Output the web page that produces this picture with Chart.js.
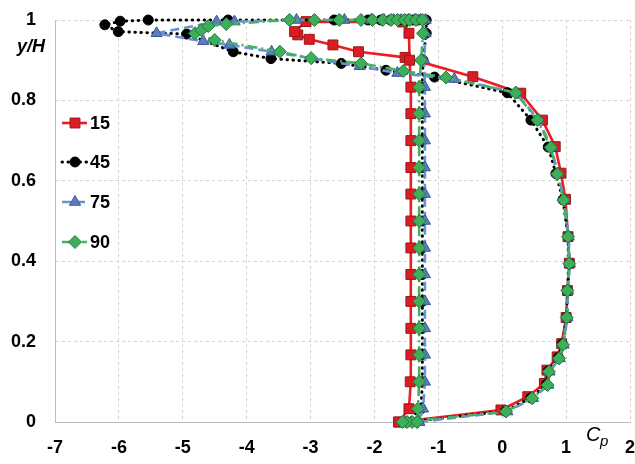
<!DOCTYPE html>
<html>
<head>
<meta charset="utf-8">
<script src="https://cdn.jsdelivr.net/npm/chart.js@4.4.1/dist/chart.umd.min.js"></script>
<style>
  html, body { margin: 0; padding: 0; background: #ffffff; }
  #wrap { width: 635px; height: 464px; }
</style>
</head>
<body>
<div id="wrap"><canvas id="cp" width="635" height="464"></canvas></div>
<script>
// Axis ticks
const xTicks = [-7, -6, -5, -4, -3, -2, -1, 0, 1, 2];
const yTicks = [0, 0.2, 0.4, 0.6, 0.8, 1];
const seriesNames = ['15', '45', '75', '90'];

// Each profile runs: bottom -> windward face (positive Cp) -> sloped roof segment
// out to the leading edge -> top row back downstream -> leeward face down.

// 15
const cp15 = [-1.62,
  -0.02, 0.40, 0.66, 0.70, 0.86, 0.93, 1.00, 1.02, 1.05, 1.03, 0.99, 0.92, 0.83, 0.63, 0.29,
  -0.46, -1.52, -2.25, -2.65, -3.02, -3.20, -3.25,
  -3.07, -1.56,
  -1.46, -1.45, -1.43, -1.43, -1.43, -1.43, -1.43, -1.43, -1.43, -1.43, -1.43, -1.43, -1.43, -1.44, -1.46];
const yh15 = [0,
  0.030, 0.063, 0.096, 0.129, 0.162, 0.195, 0.260, 0.327, 0.395, 0.461, 0.554, 0.619, 0.685, 0.751, 0.818,
  0.859, 0.907, 0.921, 0.938, 0.952, 0.963, 0.971,
  0.996, 0.995,
  0.967, 0.900, 0.833, 0.767, 0.700, 0.633, 0.567, 0.500, 0.433, 0.367, 0.300, 0.233, 0.167, 0.100, 0.033];

// 45
const cp45 = [-1.50,
  0.05, 0.45, 0.69, 0.72, 0.88, 0.94, 1.01, 1.02, 1.05, 1.03, 0.95, 0.84, 0.72, 0.45, 0.08,
  -1.06, -1.82, -2.52, -3.62, -4.21, -4.94, -6.01, -6.22,
  -5.98, -5.54, -4.29, -2.63, -2.10, -1.90, -1.75, -1.62, -1.50, -1.40, -1.32, -1.19,
  -1.19, -1.24, -1.25, -1.25, -1.25, -1.25, -1.25, -1.25, -1.25, -1.25, -1.25, -1.25, -1.25, -1.25, -1.27];
const yh45 = [0,
  0.027, 0.060, 0.093, 0.127, 0.160, 0.194, 0.260, 0.327, 0.394, 0.461, 0.553, 0.618, 0.684, 0.751, 0.819,
  0.858, 0.875, 0.892, 0.904, 0.921, 0.965, 0.971, 0.988,
  0.997, 1.000, 1.000, 1.000, 1.000, 1.000, 1.000, 1.000, 1.000, 1.000, 1.000, 1.000,
  0.967, 0.900, 0.833, 0.767, 0.700, 0.633, 0.567, 0.500, 0.433, 0.367, 0.300, 0.233, 0.167, 0.100, 0.033];

// 75
const cp75 = [-1.30,
  0.08, 0.48, 0.72, 0.74, 0.90, 0.96, 1.02, 1.03, 1.06, 1.04, 0.97, 0.87, 0.77, 0.57, 0.22,
  -0.75, -1.64, -2.23, -3.61, -4.27, -4.68, -5.41,
  -4.47, -4.19, -3.22, -2.47, -2.05, -1.85, -1.70, -1.58, -1.47, -1.37, -1.28, -1.20,
  -1.20, -1.22, -1.21, -1.21, -1.21, -1.21, -1.21, -1.21, -1.21, -1.21, -1.21, -1.21, -1.21, -1.21, -1.24];
const yh75 = [0,
  0.026, 0.059, 0.092, 0.125, 0.158, 0.192, 0.260, 0.327, 0.394, 0.461, 0.553, 0.618, 0.684, 0.751, 0.819,
  0.853, 0.868, 0.885, 0.921, 0.938, 0.947, 0.967,
  0.996, 0.996, 1.000, 1.000, 1.000, 1.000, 1.000, 1.000, 1.000, 1.000, 1.000, 1.000,
  0.967, 0.900, 0.833, 0.767, 0.700, 0.633, 0.567, 0.500, 0.433, 0.367, 0.300, 0.233, 0.167, 0.100, 0.033];

// 90
const cp90 = [-1.33, -1.41, -1.49, -1.56,
  0.06, 0.47, 0.71, 0.73, 0.89, 0.95, 1.01, 1.02, 1.05, 1.03, 0.96, 0.86, 0.76, 0.55, 0.21,
  -0.88, -1.55, -2.21, -2.99, -3.48, -4.50, -4.81, -4.71, -4.60, -4.32,
  -3.33, -2.94, -2.55, -2.21, -2.03, -1.87, -1.74, -1.64, -1.53, -1.45, -1.35, -1.25,
  -1.24, -1.27, -1.30, -1.30, -1.30, -1.30, -1.30, -1.30, -1.30, -1.30, -1.30, -1.30, -1.30, -1.30, -1.32];
const yh90 = [0, 0, 0, 0,
  0.026, 0.059, 0.092, 0.125, 0.158, 0.192, 0.260, 0.327, 0.394, 0.461, 0.552, 0.617, 0.683, 0.751, 0.819,
  0.857, 0.873, 0.892, 0.905, 0.921, 0.950, 0.967, 0.975, 0.985, 0.990,
  1.000, 1.000, 1.000, 1.000, 1.000, 1.000, 1.000, 1.000, 1.000, 1.000, 1.000, 1.000,
  0.967, 0.900, 0.833, 0.767, 0.700, 0.633, 0.567, 0.500, 0.433, 0.367, 0.300, 0.233, 0.167, 0.100, 0.033];

// Pair up Cp and y/H, closing the outline back to its first point
function outline(xs, ys) {
  const pts = xs.map((x, i) => ({ x: x, y: ys[i] }));
  pts.push({ x: xs[0], y: ys[0] });
  return pts;
}

const FONT = "'Liberation Sans', Arial, Helvetica, sans-serif";

const datasets = [
  {
    label: seriesNames[0], data: outline(cp15, yh15), order: 4,
    borderColor: '#ED1C24', borderWidth: 2.6, borderDash: [], borderCapStyle: 'butt',
    pointStyle: 'rect', pointRadius: 7, pointBackgroundColor: '#DC1C22',
    pointBorderColor: '#961A1A', pointBorderWidth: 1
  },
  {
    label: seriesNames[1], data: outline(cp45, yh45), order: 3,
    borderColor: '#000000', borderWidth: 3, borderDash: [0.5, 5.5], borderCapStyle: 'round',
    pointStyle: 'circle', pointRadius: 5, pointBackgroundColor: '#000000',
    pointBorderColor: '#000000', pointBorderWidth: 1
  },
  {
    label: seriesNames[2], data: outline(cp75, yh75), order: 2,
    borderColor: '#6A92D4', borderWidth: 2.6, borderDash: [9, 5], borderCapStyle: 'butt',
    pointStyle: 'triangle', pointRadius: 6.5, pointBackgroundColor: '#5B7CC2',
    pointBorderColor: '#3C5A98', pointBorderWidth: 1
  },
  {
    label: seriesNames[3], data: outline(cp90, yh90), order: 1,
    borderColor: '#44B25E', borderWidth: 2.6, borderDash: [10, 4, 2, 4], borderCapStyle: 'butt',
    pointStyle: 'rectRot', pointRadius: 6.5, pointBackgroundColor: '#3DAE5A',
    pointBorderColor: '#25773B', pointBorderWidth: 1
  }
];
datasets.forEach(d => { d.showLine = true; d.fill = false; d.tension = 0; d.clip = false; });

// Marker shapes for the inline key, same geometry as the plotted points
function drawMark(ctx, style, x, y, r) {
  ctx.beginPath();
  if (style === 'rect') {
    const s = Math.SQRT1_2 * r;
    ctx.rect(x - s, y - s, 2 * s, 2 * s);
  } else if (style === 'circle') {
    ctx.arc(x, y, r, 0, Math.PI * 2);
  } else if (style === 'triangle') {
    let a = 0;
    ctx.moveTo(x + Math.sin(a) * r, y - Math.cos(a) * r);
    a += Math.PI * 2 / 3;
    ctx.lineTo(x + Math.sin(a) * r, y - Math.cos(a) * r);
    a += Math.PI * 2 / 3;
    ctx.lineTo(x + Math.sin(a) * r, y - Math.cos(a) * r);
  } else {
    ctx.moveTo(x - r, y); ctx.lineTo(x, y - r); ctx.lineTo(x + r, y); ctx.lineTo(x, y + r);
  }
  ctx.closePath();
}

const keyRows = [103, 142, 182, 222];

const keyAndCaptions = {
  id: 'keyAndCaptions',
  afterDraw(chart) {
    const { ctx, chartArea } = chart;
    const x0 = chartArea.left + 7, x1 = chartArea.left + 32, xm = chartArea.left + 20;
    chart.data.datasets.forEach((ds, i) => {
      const y = chartArea.top + keyRows[i];
      ctx.save();
      ctx.strokeStyle = ds.borderColor;
      ctx.lineWidth = ds.borderWidth;
      ctx.lineCap = ds.borderCapStyle;
      ctx.setLineDash(ds.borderDash);
      ctx.beginPath(); ctx.moveTo(x0, y); ctx.lineTo(x1, y); ctx.stroke();
      ctx.setLineDash([]);
      ctx.lineCap = 'butt';
      drawMark(ctx, ds.pointStyle, xm, y, ds.pointRadius);
      ctx.fillStyle = ds.pointBackgroundColor; ctx.fill();
      ctx.lineWidth = ds.pointBorderWidth; ctx.strokeStyle = ds.pointBorderColor; ctx.stroke();
      ctx.fillStyle = '#000000';
      ctx.font = 'bold 18px ' + FONT;
      ctx.textAlign = 'left'; ctx.textBaseline = 'middle';
      ctx.fillText(ds.label, x1 + 3, y + 1);
      ctx.restore();
    });

    // axis captions
    ctx.save();
    ctx.fillStyle = '#000000';
    ctx.textBaseline = 'middle';
    ctx.textAlign = 'left';
    ctx.font = 'italic bold 18px ' + FONT;
    ctx.fillText('y/H', 17, 47);
    ctx.font = 'italic 20px ' + FONT;
    ctx.fillText('C', 586, 435);
    ctx.font = 'italic 15px ' + FONT;
    ctx.fillText('p', 600, 442);
    ctx.restore();
  }
};

new Chart(document.getElementById('cp'), {
  type: 'scatter',
  data: { datasets: datasets },
  options: {
    responsive: false,
    animation: false,
    devicePixelRatio: 1,
    layout: { autoPadding: false, padding: { top: 20, right: 5, left: 0, bottom: 0 } },
    plugins: { legend: { display: false }, tooltip: { enabled: false } },
    scales: {
      x: {
        type: 'linear', min: -7, max: 2,
        afterBuildTicks: s => { s.ticks = xTicks.map(v => ({ value: v })); },
        afterFit: s => { s.height = 42; s.paddingLeft = 0; s.paddingRight = 0; },
        grid: { color: '#d4d4d4', lineWidth: 1, drawTicks: false },
        border: { display: true, color: '#bdbdbd', width: 1, dash: [3, 3] },
        ticks: { color: '#000000', padding: 15, font: { family: FONT, size: 18, weight: 'bold' } }
      },
      y: {
        type: 'linear', min: 0, max: 1,
        afterBuildTicks: s => { s.ticks = yTicks.map(v => ({ value: v })); },
        afterFit: s => { s.width = 55; s.paddingTop = 0; s.paddingBottom = 0; },
        grid: { color: '#d4d4d4', lineWidth: 1, drawTicks: false },
        border: { display: true, color: '#bdbdbd', width: 1, dash: [3, 3] },
        ticks: {
          color: '#000000', padding: 19, font: { family: FONT, size: 18, weight: 'bold' },
          callback: v => (v === 0 || v === 1) ? String(v) : v.toFixed(1)
        }
      }
    }
  },
  plugins: [keyAndCaptions]
});
</script>
</body>
</html>
